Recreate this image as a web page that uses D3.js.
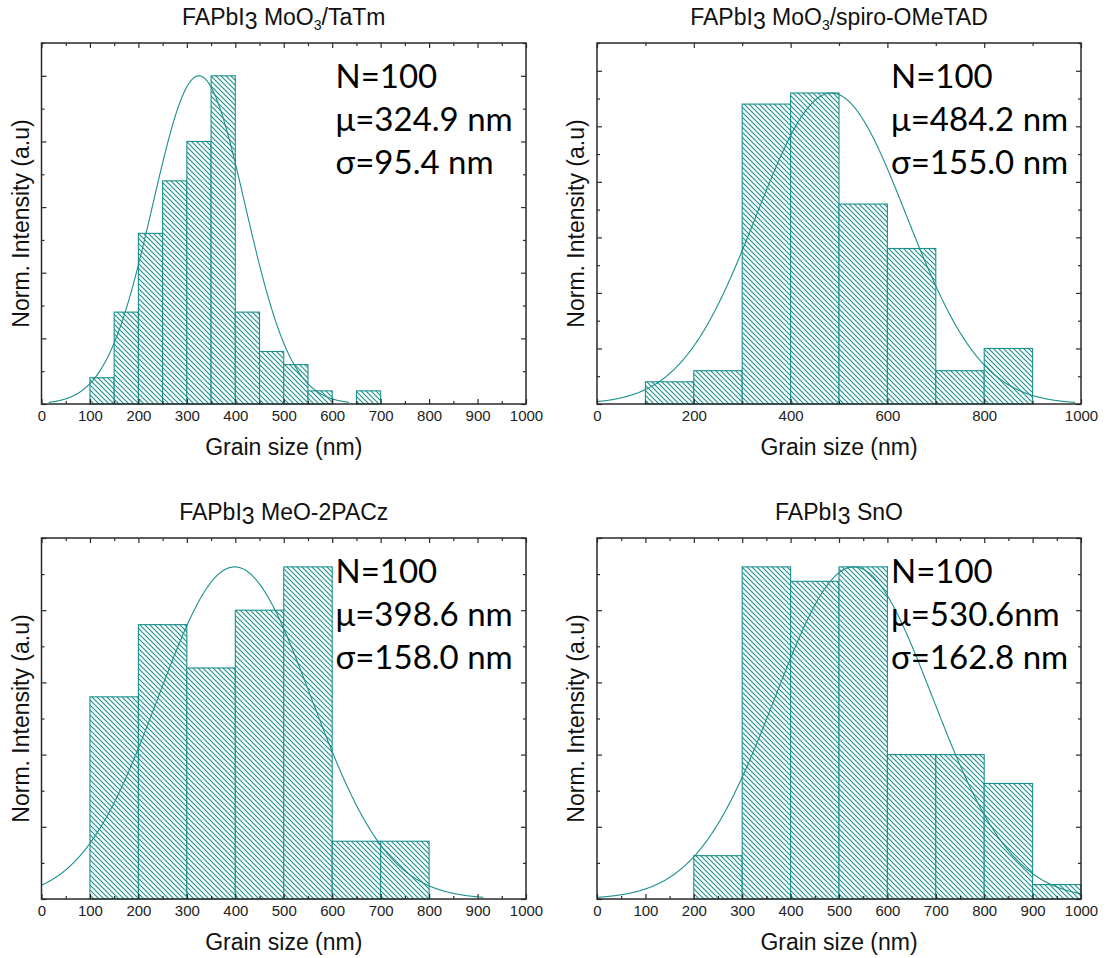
<!DOCTYPE html>
<html><head><meta charset="utf-8">
<script src="https://cdn.jsdelivr.net/npm/d3@7"></script>
<style>body{margin:0;background:#fff}</style>
</head><body>
<svg id="fig" width="1110" height="958"></svg>
<script>
// Grain-size histograms: bin edges (nm) and counts per bin
const binsTaTm = [100,150,200,250,300,350,400,450,500,550,600,650,700];
const countsTaTm = [2,7,13,17,20,25,7,4,3,1,0,1];
const binsSpiro = [100,200,300,400,500,600,700,800,900];
const countsSpiro = [2,3,27,28,18,14,3,5];
const binsMeO = [100,200,300,400,500,600,700,800];
const countsMeO = [14,19,16,20,23,4,4];
const binsSnO = [200,300,400,500,600,700,800,900,1000];
const countsSnO = [3,23,22,23,10,10,8,1];

// Gaussian fit parameters and sample sizes
const fitMu = [324.9, 484.2, 398.6, 530.6];
const fitSigma = [95.4, 155.0, 158.0, 162.8];
const sampleN = [100, 100, 100, 100];
const muText = ["μ=324.9 nm", "μ=484.2 nm", "μ=398.6 nm", "μ=530.6nm"];
const sigmaText = ["σ=95.4 nm", "σ=155.0 nm", "σ=158.0 nm", "σ=162.8 nm"];

// Titles: [prefix, big "3", middle, small subscript, suffix]
const titleParts = [
  ["FAPbI", "3", " MoO", "3", "/TaTm"],
  ["FAPbI", "3", " MoO", "3", "/spiro-OMeTAD"],
  ["FAPbI", "3", " MeO-2PACz", "", ""],
  ["FAPbI", "3", " SnO", "", ""]
];

// Axis ranges and ticks
const xDomain = [0, 1000];
const yTop = [27.5, 32.5, 25, 25];
const xLabelStep = [100, 200, 100, 100];
const xTickStep = [50, 100, 50, 50];
const yTickStep = 2.5;
const xTitle = "Grain size (nm)";
const yTitle = "Norm. Intensity (a.u)";

const binsAll = [binsTaTm, binsSpiro, binsMeO, binsSnO];
const countsAll = [countsTaTm, countsSpiro, countsMeO, countsSnO];

const frames = [
  {x0: 41.5, x1: 526, y0: 43, y1: 404},
  {x0: 597, x1: 1081, y0: 43, y1: 404},
  {x0: 41.5, x1: 526, y0: 538, y1: 899},
  {x0: 597, x1: 1081, y0: 538, y1: 899}
];

const teal = "#1a8f8d";
const axisColor = "#2a2a2a";
const sansFont = "'Liberation Sans', Arial, sans-serif";
const statFont = "Lato, 'Open Sans', sans-serif";

const svg = d3.select("#fig");
const defs = svg.append("defs");
const pat = defs.append("pattern")
  .attr("id", "hatch").attr("patternUnits", "userSpaceOnUse")
  .attr("width", 5).attr("height", 5);
pat.append("rect").attr("width", 5).attr("height", 5).attr("fill", "#fff");
pat.append("path")
  .attr("d", "M-1,-1 L6,6 M-1,4 L1,6 M4,-1 L6,1")
  .attr("stroke", teal).attr("stroke-width", 1.1);

frames.forEach((f, i) => {
  const g = svg.append("g");
  const x = d3.scaleLinear().domain(xDomain).range([f.x0, f.x1]);
  const y = d3.scaleLinear().domain([0, yTop[i]]).range([f.y1, f.y0]);
  const bins = binsAll[i], counts = countsAll[i];

  // bars
  const barData = counts.map((c, k) => ({lo: bins[k], hi: bins[k + 1], c}));
  g.append("g").selectAll("rect").data(barData.filter(d => d.c > 0)).join("rect")
    .attr("x", d => x(d.lo)).attr("width", d => x(d.hi) - x(d.lo))
    .attr("y", d => y(d.c)).attr("height", d => y(0) - y(d.c))
    .attr("fill", "url(#hatch)").attr("stroke", teal).attr("stroke-width", 1.1);

  // Gaussian fit, peak scaled to the tallest bin
  const peak = d3.max(counts);
  const mu = fitMu[i], sd = fitSigma[i];
  const lo = Math.max(xDomain[0], mu - 3.25 * sd), hi = Math.min(xDomain[1], mu + 3.25 * sd);
  const pts = d3.range(lo, hi, 1).concat([hi]).map(v => [v, peak * Math.exp(-((v - mu) ** 2) / (2 * sd * sd))]);
  g.append("path").datum(pts)
    .attr("d", d3.line().x(d => x(d[0])).y(d => y(d[1])))
    .attr("fill", "none").attr("stroke", teal).attr("stroke-width", 1.1);

  // ticks (inward on all four sides)
  const xMajor = d3.range(xDomain[0], xDomain[1] + 1, xLabelStep[i]);
  const xMinor = d3.range(xDomain[0], xDomain[1] + 1, xTickStep[i]).filter(v => !xMajor.includes(v));
  const yAll = d3.range(0, yTop[i] + 0.001, yTickStep);
  const yMajor = yAll.filter(v => Math.abs(v % 5) < 1e-6);
  const yMinor = yAll.filter(v => Math.abs(v % 5) >= 1e-6);

  const styleAxis = sel => {
    sel.select(".domain").remove();
    sel.selectAll("line").attr("stroke", axisColor).attr("stroke-width", 1.2);
    sel.selectAll("text").attr("font-family", sansFont).attr("font-size", 15).attr("fill", "#222");
  };
  g.append("g").attr("transform", `translate(0,${f.y1})`)
    .call(d3.axisBottom(x).tickValues(xMajor).tickSize(-5).tickPadding(6).tickFormat(d3.format("d"))).call(styleAxis);
  g.append("g").attr("transform", `translate(0,${f.y1})`)
    .call(d3.axisBottom(x).tickValues(xMinor).tickSize(-3).tickFormat("")).call(styleAxis);
  g.append("g").attr("transform", `translate(0,${f.y0})`)
    .call(d3.axisTop(x).tickValues(xMajor).tickSize(-5).tickFormat("")).call(styleAxis);
  g.append("g").attr("transform", `translate(0,${f.y0})`)
    .call(d3.axisTop(x).tickValues(xMinor).tickSize(-3).tickFormat("")).call(styleAxis);
  g.append("g").attr("transform", `translate(${f.x0},0)`)
    .call(d3.axisLeft(y).tickValues(yMajor).tickSize(-5).tickFormat("")).call(styleAxis);
  g.append("g").attr("transform", `translate(${f.x0},0)`)
    .call(d3.axisLeft(y).tickValues(yMinor).tickSize(-3).tickFormat("")).call(styleAxis);
  g.append("g").attr("transform", `translate(${f.x1},0)`)
    .call(d3.axisRight(y).tickValues(yMajor).tickSize(-5).tickFormat("")).call(styleAxis);
  g.append("g").attr("transform", `translate(${f.x1},0)`)
    .call(d3.axisRight(y).tickValues(yMinor).tickSize(-3).tickFormat("")).call(styleAxis);

  // frame
  g.append("rect").attr("x", f.x0).attr("y", f.y0)
    .attr("width", f.x1 - f.x0).attr("height", f.y1 - f.y0)
    .attr("fill", "none").attr("stroke", axisColor).attr("stroke-width", 1.5);

  // axis titles
  g.append("text").attr("x", (f.x0 + f.x1) / 2).attr("y", f.y1 + 51)
    .attr("text-anchor", "middle").attr("font-family", sansFont).attr("font-size", 23).attr("fill", "#111")
    .text(xTitle);
  g.append("text").attr("transform", `translate(${f.x0 - 13},${(f.y0 + f.y1) / 2}) rotate(-90)`)
    .attr("text-anchor", "middle").attr("font-family", sansFont).attr("font-size", 23).attr("fill", "#111")
    .text(yTitle);

  // panel title
  const tp = titleParts[i];
  const t = g.append("text").attr("x", (f.x0 + f.x1) / 2).attr("y", f.y0 - 18)
    .attr("text-anchor", "middle").attr("font-family", sansFont).attr("font-size", 23).attr("fill", "#111");
  t.append("tspan").text(tp[0]);
  t.append("tspan").attr("dy", 4).text(tp[1]);
  t.append("tspan").attr("dy", -4).text(tp[2]);
  if (tp[3]) {
    t.append("tspan").attr("dy", 5).attr("font-size", 14).text(tp[3]);
    t.append("tspan").attr("dy", -5).text(tp[4]);
  }

  // fit statistics
  const stats = ["N=" + sampleN[i], muText[i], sigmaText[i]];
  g.append("g").selectAll("text").data(stats).join("text")
    .attr("x", f.x0 + 294).attr("y", (d, k) => f.y0 + 45 + k * 43)
    .attr("font-family", statFont).attr("font-size", 33).attr("fill", "#000")
    .text(d => d);
});
</script>
</body></html>
